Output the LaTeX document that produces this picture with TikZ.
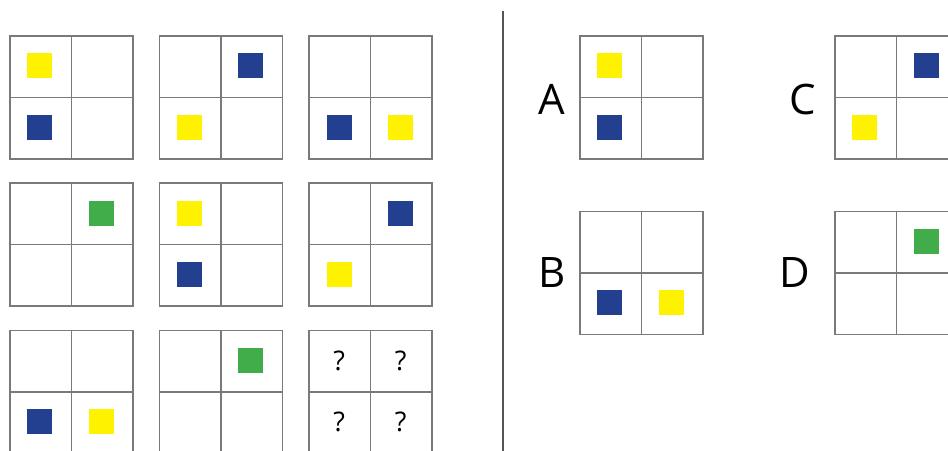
\documentclass[tikz,border=0pt]{standalone}
\usepackage{fontspec}
\setmainfont{Open Sans}
\definecolor{syel}{HTML}{FFF200}
\definecolor{sblu}{HTML}{233F8F}
\definecolor{sgrn}{HTML}{40AD4A}
\definecolor{gline}{HTML}{7A7A7A}
\definecolor{divline}{HTML}{555555}
\tikzset{
  panelbox/.style={draw=gline, line width=1.5pt, minimum size=123pt, inner sep=0pt, anchor=north west},
  gridline/.style={draw=gline, line width=1.5pt},
  tile/.style={minimum size=25pt, inner sep=0pt, draw=none},
  ylw/.style={tile, fill=syel},
  blu/.style={tile, fill=sblu},
  grn/.style={tile, fill=sgrn},
  lbl/.style={font=\fontsize{42}{42}\selectfont, inner sep=0pt},
  qm/.style={font=\fontsize{27}{27}\selectfont, inner sep=0pt},
}
% \mkpanel{name}{x}{y}
\newcommand{\mkpanel}[3]{%
  \node[panelbox] (#1) at (#2,#3) {};
  \draw[gridline] (#1.north) -- (#1.south);
  \draw[gridline] (#1.west) -- (#1.east);
  \coordinate (#1-tl) at ($(#1.north west)+(30.75,30.75)$);
  \coordinate (#1-tr) at ($(#1.north west)+(92.25,30.75)$);
  \coordinate (#1-bl) at ($(#1.north west)+(30.75,92.25)$);
  \coordinate (#1-br) at ($(#1.north west)+(92.25,92.25)$);
}
\usetikzlibrary{calc}
\begin{document}
\begin{tikzpicture}[x=1pt,y=-1pt]
\useasboundingbox (0,0) rectangle (948,450);
\begin{scope}
\clip (0,0) rectangle (948,450);
% left matrix
\mkpanel{p11}{9}{35}
\mkpanel{p12}{158.7}{35}
\mkpanel{p13}{308.3}{35}
\mkpanel{p21}{9}{182.3}
\mkpanel{p22}{158.7}{182.3}
\mkpanel{p23}{308.3}{182.3}
\mkpanel{p31}{9}{329.7}
\mkpanel{p32}{158.7}{329.7}
\mkpanel{p33}{308.3}{329.7}
\node[ylw] (t11a) at (p11-tl) {};
\node[blu] (t11b) at (p11-bl) {};
\node[blu] (t12a) at (p12-tr) {};
\node[ylw] (t12b) at (p12-bl) {};
\node[blu] (t13a) at (p13-bl) {};
\node[ylw] (t13b) at (p13-br) {};
\node[grn] (t21a) at (p21-tr) {};
\node[ylw] (t22a) at (p22-tl) {};
\node[blu] (t22b) at (p22-bl) {};
\node[blu] (t23a) at (p23-tr) {};
\node[ylw] (t23b) at (p23-bl) {};
\node[blu] (t31a) at (p31-bl) {};
\node[ylw] (t31b) at (p31-br) {};
\node[grn] (t32a) at (p32-tr) {};
\node[qm] (q1) at (p33-tl) {?};
\node[qm] (q2) at (p33-tr) {?};
\node[qm] (q3) at (p33-bl) {?};
\node[qm] (q4) at (p33-br) {?};
% divider
\coordinate (dtop) at (502.7,10.5);
\coordinate (dbot) at (502.7,452);
\draw[divline, line width=2pt] (dtop) -- (dbot);
% options
\mkpanel{pA}{579}{35}
\mkpanel{pC}{834}{35}
\mkpanel{pB}{579}{210.5}
\mkpanel{pD}{834}{210.5}
\node[ylw] (tAa) at (pA-tl) {};
\node[blu] (tAb) at (pA-bl) {};
\node[blu] (tCa) at (pC-tr) {};
\node[ylw] (tCb) at (pC-bl) {};
\node[blu] (tBa) at (pB-bl) {};
\node[ylw] (tBb) at (pB-br) {};
\node[grn] (tDa) at (pD-tr) {};
\node[lbl] (lA) at (552,99) {A};
\node[lbl] (lC) at (803,99) {C};
\node[lbl] (lB) at (552,273) {B};
\node[lbl] (lD) at (795,273) {D};
\end{scope}
\end{tikzpicture}
\end{document}
